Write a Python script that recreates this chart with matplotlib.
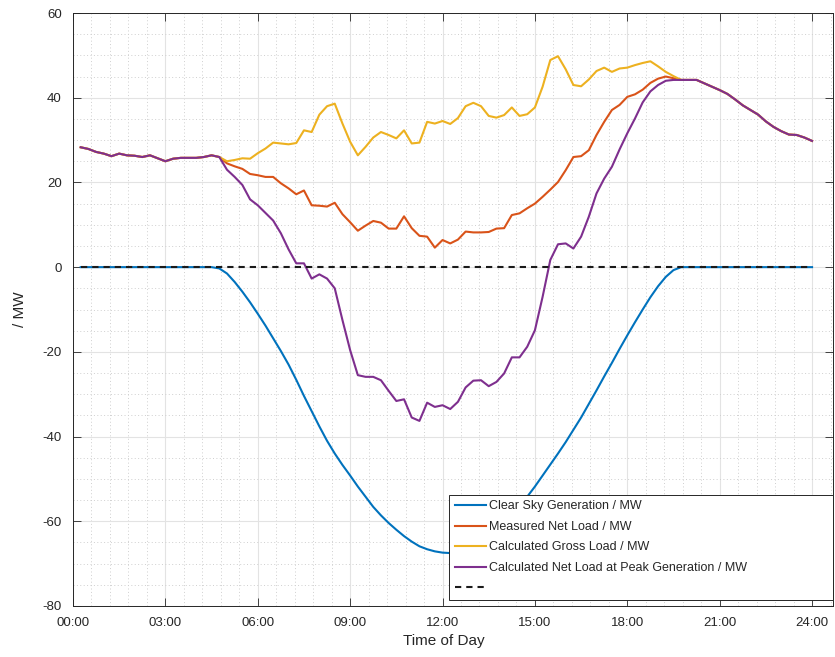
import numpy as np
import matplotlib
matplotlib.use("Agg")
import matplotlib.pyplot as plt
from matplotlib.ticker import MultipleLocator, FixedLocator

plt.rcParams["axes.unicode_minus"] = False

# ---- data (15-minute samples, 00:15 .. 24:00) ----
time_h = np.arange(1, 97) * 0.25

common_head = [28.3, 27.9, 27.2, 26.8, 26.2, 26.8, 26.4, 26.3, 26.0, 26.4,
               25.7, 25.0, 25.6, 25.8, 25.8, 25.8, 26.0, 26.4, 26.0]          # 00:15-04:45
common_tail = [44.2, 44.2, 44.2, 43.4, 42.6, 41.8, 40.9, 39.6, 38.2, 37.1,
               36.0, 34.4, 33.1, 32.1, 31.3, 31.2, 30.6, 29.8]                # 19:45-24:00

gross_mid = [25.0, 25.3, 25.7, 25.6, 26.9, 28.0, 29.4, 29.2, 29.0, 29.3,
             32.3, 31.9, 36.0, 38.0, 38.6, 33.9, 29.6, 26.4, 28.4, 30.6,
             31.9, 31.2, 30.4, 32.3, 29.2, 29.4, 34.3, 33.9, 34.5, 33.8,
             35.2, 38.0, 38.8, 38.0, 35.7, 35.3, 35.9, 37.7, 35.7, 36.1,
             37.7, 42.6, 48.9, 49.8, 46.7, 43.0, 42.7, 44.3, 46.3, 47.1,
             46.1, 46.9, 47.1, 47.7, 48.2, 48.6, 47.4, 46.1, 45.1]

measured_mid = [24.5, 23.8, 23.2, 22.0, 21.7, 21.3, 21.3, 19.8, 18.6, 17.2,
                18.1, 14.6, 14.5, 14.3, 15.2, 12.5, 10.6, 8.6, 9.8, 10.9,
                10.5, 9.1, 9.1, 12.0, 9.2, 7.4, 7.2, 4.6, 6.4, 5.6,
                6.5, 8.4, 8.2, 8.2, 8.3, 9.1, 9.2, 12.3, 12.7, 13.9,
                15.0, 16.6, 18.3, 20.1, 22.9, 26.0, 26.2, 27.6, 31.2, 34.3,
                37.1, 38.3, 40.2, 40.8, 41.9, 43.5, 44.5, 45.0, 44.6]

peak_mid = [23.0, 21.3, 19.4, 16.0, 14.6, 12.8, 11.0, 8.0, 4.2, 0.9,
            0.9, -2.7, -1.7, -2.7, -5.0, -12.5, -19.6, -25.5, -25.9, -25.9,
            -26.7, -29.2, -31.6, -31.2, -35.5, -36.3, -32.0, -33.0, -32.6, -33.5,
            -31.8, -28.4, -26.8, -26.7, -28.1, -27.1, -25.1, -21.3, -21.3, -18.8,
            -14.9, -7.0, 1.7, 5.4, 5.6, 4.4, 7.2, 11.9, 17.4, 20.9,
            23.7, 27.8, 31.6, 35.1, 38.9, 41.5, 43.0, 44.0, 44.2]

clear_sky_mid = [-0.3, -1.5, -3.5, -5.8, -8.3, -11.0, -13.8, -16.8, -19.8, -23.0,
                 -26.6, -30.4, -34.0, -37.6, -41.0, -44.0, -46.7, -49.2, -51.8, -54.2,
                 -56.6, -58.6, -60.4, -62.0, -63.5, -64.8, -65.9, -66.6, -67.1, -67.4,
                 -67.5, -67.3, -66.9, -66.2, -65.2, -63.9, -62.3, -60.5, -58.5, -56.4,
                 -54.2, -51.8, -49.2, -46.6, -44.0, -41.3, -38.4, -35.5, -32.3, -29.1,
                 -25.8, -22.6, -19.3, -16.1, -13.0, -10.0, -7.1, -4.5, -2.3, -0.7]   # 04:45-19:30

clear_sky = [0.0] * 18 + clear_sky_mid + [0.0] * 18
measured = common_head + measured_mid + common_tail
gross = common_head + gross_mid + common_tail
peak = common_head + peak_mid + common_tail
zero_line = [0.0] * 96

x_ticks = [0, 3, 6, 9, 12, 15, 18, 21, 24]
x_tick_labels = ["00:00", "03:00", "06:00", "09:00", "12:00", "15:00", "18:00", "21:00", "24:00"]
y_ticks = [-80, -60, -40, -20, 0, 20, 40, 60]

labels = ["Clear Sky Generation / MW", "Measured Net Load / MW",
          "Calculated Gross Load / MW", "Calculated Net Load at Peak Generation / MW", " "]
colors = ["#0072BD", "#D95319", "#EDB120", "#7E2F8E"]

# ---- figure ----
narrow = ["Liberation Sans Narrow", "Liberation Sans", "DejaVu Sans"]
regular = ["Liberation Sans", "DejaVu Sans"]
axcol = "#262626"

fig = plt.figure(figsize=(8.35, 6.57), dpi=100)
ax = fig.add_axes([73 / 835, 51 / 657, 760 / 835, 593 / 657])

lw = 1.5
ax.plot(time_h, clear_sky, color=colors[0], lw=lw, label=labels[0])
ax.plot(time_h, measured, color=colors[1], lw=lw, label=labels[1])
ax.plot(time_h, gross, color=colors[2], lw=lw, label=labels[2])
ax.plot(time_h, peak, color=colors[3], lw=lw, label=labels[3])
ax.plot(time_h, zero_line, color="#1a1a1a", lw=lw, linestyle=(0, (3.0, 2.4)), label=labels[4])

ax.set_xlim(0, 24.68)
ax.set_ylim(-80, 60)
ax.xaxis.set_major_locator(FixedLocator(x_ticks))
ax.set_xticklabels(x_tick_labels)
ax.yaxis.set_major_locator(FixedLocator(y_ticks))
ax.xaxis.set_minor_locator(MultipleLocator(0.6))
ax.yaxis.set_minor_locator(MultipleLocator(5))

ax.grid(True, which="major", color="#e3e3e3", lw=0.8, ls="-")
ax.grid(True, which="minor", color="#cfcfcf", lw=0.7, ls=(0, (1, 2.5)))
ax.set_axisbelow(True)

for s in ax.spines.values():
    s.set_color(axcol)
    s.set_linewidth(0.7)

ax.tick_params(which="major", direction="in", length=6, width=0.6, color=axcol,
               top=True, right=True, labelcolor=axcol, labelsize=9.5)
ax.tick_params(which="minor", length=0, top=True, right=True)
ax.tick_params(axis="y", pad=8)
ax.tick_params(axis="x", pad=8)
for lab in ax.get_xticklabels() + ax.get_yticklabels():
    lab.set_family(narrow)

ax.set_xlabel("Time of Day", family=narrow, fontsize=11, color=axcol)
ax.xaxis.set_label_coords(0.488, -0.059)
ax.xaxis.label.set_va("center")
ax.set_ylabel("/ MW", family=narrow, fontsize=11, color=axcol)
ax.yaxis.set_label_coords(-0.0697, 0.5)
ax.yaxis.label.set_va("center")

leg = ax.legend(loc="lower left", bbox_to_anchor=(0.495, 0.01, 0.505, 0.18), mode="expand",
                fancybox=False, frameon=True, framealpha=1.0, edgecolor=axcol,
                prop={"family": regular, "size": 9}, handlelength=2.5, handletextpad=0.2,
                labelspacing=0.68, borderpad=0.45, borderaxespad=0)
leg.get_frame().set_linewidth(0.7)
for t in leg.get_texts():
    t.set_color(axcol)

fig.savefig("out.png", dpi=100, facecolor="white")
